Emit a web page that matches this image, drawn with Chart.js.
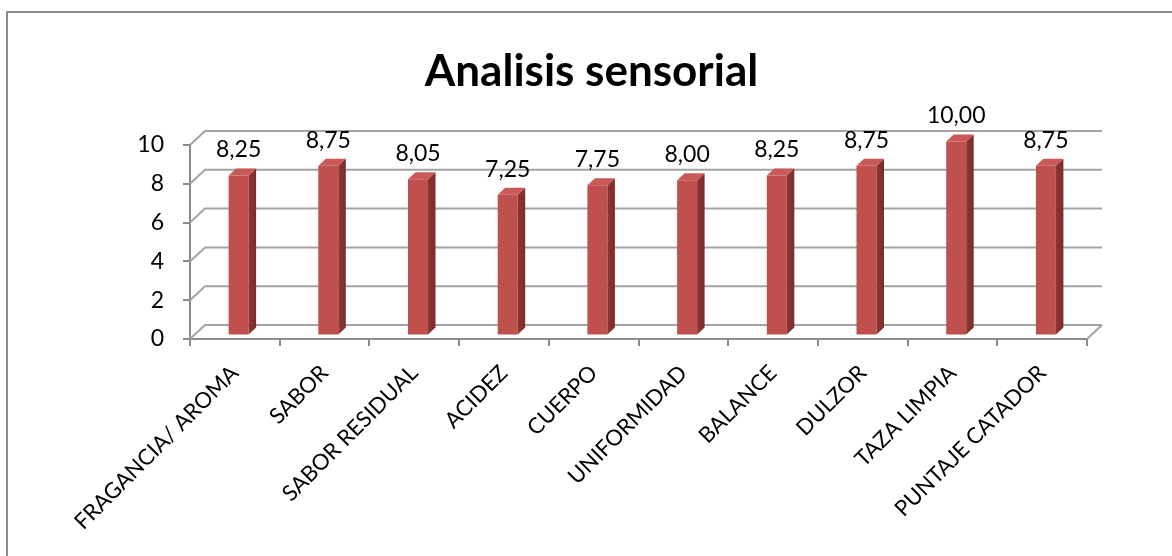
<!DOCTYPE html>
<html>
<head>
<meta charset="utf-8">
<script src="https://cdn.jsdelivr.net/npm/chart.js@4.4.1/dist/chart.umd.min.js"></script>
<style>
  html, body { margin: 0; padding: 0; background: #fff; overflow: hidden; }
  #wrap { position: relative; width: 1172px; height: 556px; overflow: hidden; }
  #frame { position: absolute; left: 6px; top: 11px; width: 1200px; height: 600px;
           border-left: 2px solid #8c8c8c; border-top: 2px solid #8c8c8c; }
  canvas { position: absolute; left: 0; top: 0; }
</style>
</head>
<body>
<div id="wrap">
  <div id="frame"></div>
  <canvas id="chart" width="1172" height="556"></canvas>
</div>
<script>
// Scores per attribute of the cupping sheet
const categories = ['FRAGANCIA/ AROMA', 'SABOR', 'SABOR RESIDUAL', 'ACIDEZ', 'CUERPO',
                    'UNIFORMIDAD', 'BALANCE', 'DULZOR', 'TAZA LIMPIA', 'PUNTAJE CATADOR'];
const scores = [8.25, 8.75, 8.05, 7.25, 7.75, 8.00, 8.25, 8.75, 10.00, 8.75];
const valueTicks = [0, 2, 4, 6, 8, 10];
const chartTitle = 'Analisis sensorial';

// 3D look: depth of the floor, and where the columns sit inside that depth
const DEPTH_X = 15, DEPTH_Y = -14;
const BAR_FRONT = 0.25, BAR_BACK = 0.75;

const AXIS_COLOR = '#8c8c8c';
const WALL_COLOR = '#a3a3a3';

const fmt = v => v.toFixed(2).replace('.', ',');

Chart.defaults.font.family = 'Lato, "Open Sans", sans-serif';
Chart.defaults.color = '#000';

const threeD = {
  id: 'threeD',
  beforeDatasetsDraw(chart) {
    const { ctx, chartArea: a, scales: { y } } = chart;
    // back wall gridlines with their side-wall diagonals
    ctx.save();
    ctx.strokeStyle = WALL_COLOR;
    ctx.lineWidth = 2;
    ctx.beginPath();
    valueTicks.forEach(v => {
      const py = y.getPixelForValue(v);
      ctx.moveTo(a.left, py);
      ctx.lineTo(a.left + DEPTH_X, py + DEPTH_Y);
      ctx.lineTo(a.right + DEPTH_X, py + DEPTH_Y);
    });
    const p0 = y.getPixelForValue(0);
    ctx.moveTo(a.right + DEPTH_X, p0 + DEPTH_Y);
    ctx.lineTo(a.right, p0);
    ctx.stroke();
    ctx.restore();
    // column fronts sit a quarter of the way into the floor
    ctx.save();
    ctx.translate(DEPTH_X * BAR_FRONT, DEPTH_Y * BAR_FRONT);
  },
  afterDatasetsDraw(chart) {
    const { ctx } = chart;
    ctx.restore();
    const fx = DEPTH_X * BAR_FRONT, fy = DEPTH_Y * BAR_FRONT;
    const sx = DEPTH_X * (BAR_BACK - BAR_FRONT), sy = DEPTH_Y * (BAR_BACK - BAR_FRONT);
    const meta = chart.getDatasetMeta(0);
    ctx.save();
    meta.data.forEach((el, i) => {
      const l = el.x - el.width / 2 + fx, r = el.x + el.width / 2 + fx;
      const t = el.y + fy, b = el.base + fy;
      // right side face
      const g = ctx.createLinearGradient(r, 0, r + sx, 0);
      g.addColorStop(0, '#8e3533');
      g.addColorStop(1, '#7a2d2b');
      ctx.fillStyle = g;
      ctx.beginPath();
      ctx.moveTo(r, t); ctx.lineTo(r + sx, t + sy); ctx.lineTo(r + sx, b + sy); ctx.lineTo(r, b);
      ctx.closePath(); ctx.fill();
      // top face
      ctx.fillStyle = '#c95a57';
      ctx.beginPath();
      ctx.moveTo(l, t); ctx.lineTo(r, t); ctx.lineTo(r + sx, t + sy); ctx.lineTo(l + sx, t + sy);
      ctx.closePath(); ctx.fill();
      // value label
      ctx.fillStyle = '#000';
      ctx.font = '23px Lato, "Open Sans", sans-serif';
      ctx.textAlign = 'center';
      ctx.textBaseline = 'middle';
      ctx.fillText(fmt(scores[i]), (l + r) / 2, t - 25.5);
    });
    ctx.restore();
  }
};

new Chart(document.getElementById('chart'), {
  type: 'bar',
  data: {
    labels: categories,
    datasets: [{
      data: scores,
      backgroundColor: '#c0504d',
      borderWidth: 0,
      barPercentage: 0.223,
      categoryPercentage: 1,
      clip: false,
      yAxisID: 'y'
    }]
  },
  options: {
    responsive: false,
    animation: false,
    devicePixelRatio: 1,
    layout: { padding: { left: 11, right: 0, top: 0, bottom: 0 } },
    plugins: {
      legend: { display: false },
      tooltip: { enabled: false },
      title: {
        display: true,
        text: chartTitle,
        color: '#000',
        font: { size: 44, weight: 'bold' },
        padding: { top: 45.6, bottom: 46.6 }
      }
    },
    scales: {
      x: {
        grid: { offset: true, drawOnChartArea: false, drawTicks: true, tickLength: 7,
                color: AXIS_COLOR, lineWidth: 2 },
        border: { display: true, color: AXIS_COLOR, width: 2 },
        ticks: { autoSkip: false, minRotation: 45, maxRotation: 45, padding: 14,
                 color: '#000', font: { size: 22 } },
        afterFit(s) { s.height = 217; }
      },
      y: {
        min: 0, max: 10,
        afterBuildTicks(s) { s.ticks = valueTicks.map(v => ({ value: v })); },
        grid: { drawOnChartArea: false, drawTicks: true, tickLength: 7,
                color: AXIS_COLOR, lineWidth: 2 },
        border: { display: true, color: AXIS_COLOR, width: 2 },
        ticks: { padding: 19, color: '#000', font: { size: 23 } },
        afterFit(s) { s.width = 179; }
      },
      yRight: {
        position: 'right',
        display: true,
        grid: { display: false },
        border: { display: false },
        ticks: { display: false },
        afterFit(s) { s.width = 85; }
      }
    }
  },
  plugins: [threeD]
});
</script>
</body>
</html>
